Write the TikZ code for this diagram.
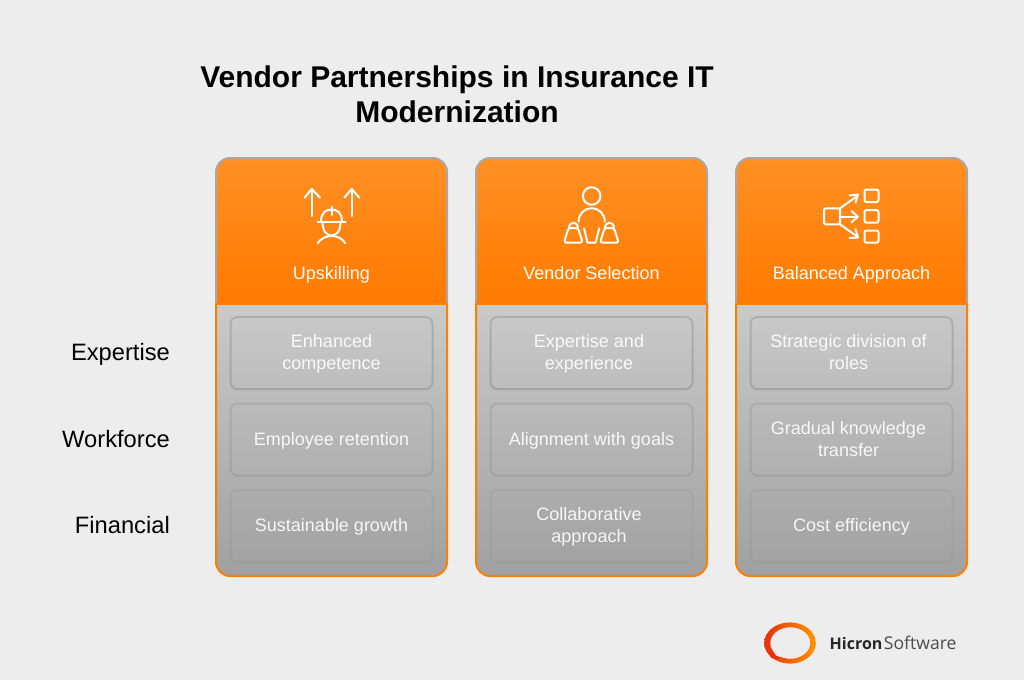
\documentclass[tikz,border=0pt]{standalone}
\usepackage{fontspec}
\setmainfont{Liberation Sans}
\newfontfamily\logofont{Open Sans}
\definecolor{pagebg}{HTML}{EDEDED}
\definecolor{orangeline}{HTML}{FF8000}
\definecolor{headtop}{HTML}{FF9025}
\definecolor{headbot}{HTML}{FF7A00}
\definecolor{bodytop}{HTML}{CACACA}
\definecolor{bodybot}{HTML}{A0A0A0}
\definecolor{headedge}{HTML}{A8A8A8}
\definecolor{logored}{HTML}{E8300A}
\definecolor{logoorange}{HTML}{FF9400}
\tikzset{
  x=1pt,y=-1pt,
  titletext/.style={font=\fontsize{30}{35}\selectfont\bfseries,text=black,align=center,inner sep=0pt},
  sidetext/.style={font=\fontsize{23.7}{28}\selectfont,text=black,anchor=east,inner sep=0pt},
  headtext/.style={font=\fontsize{18}{22}\selectfont,text=white,inner sep=0pt},
  itemtext/.style={font=\fontsize{18}{22}\selectfont,text=white,text opacity=.9,align=center,inner sep=0pt},
  itembox/.style={draw=black,line width=2pt,rounded corners=7pt,minimum width=202pt,minimum height=72pt,inner sep=0pt},
  rowone/.style={itembox,draw opacity=.13},
  rowtwo/.style={itembox,draw opacity=.08},
  rowthree/.style={itembox,draw opacity=.035},
  iconline/.style={draw=white,line width=2pt,line cap=round,line join=round},
}
\newcommand{\cardbg}[1]{%
  \begin{scope}
    \clip[rounded corners=14pt] (#1,158) rectangle (#1+231,576);
    \shade[top color=bodytop,bottom color=bodybot] (#1,304) rectangle (#1+231,576);
    \shade[top color=headtop,bottom color=headbot] (#1,158) rectangle (#1+231,304);
  \end{scope}
  \draw[headedge,line width=2pt,rounded corners=14pt] (#1,304) -- (#1,158) -- (#1+231,158) -- (#1+231,304);
  \draw[orangeline,line width=2pt,rounded corners=14pt] (#1,304) -- (#1,576) -- (#1+231,576) -- (#1+231,304);
  \draw[orangeline,line width=1.5pt] (#1-1,304) -- (#1+232,304);
}
\begin{document}
\begin{tikzpicture}
\useasboundingbox (0,0) rectangle (1024,680);
\fill[pagebg] (0,0) rectangle (1024,680);

\node[titletext] (title) at (457,94) {Vendor Partnerships in Insurance IT\\Modernization};

\node[sidetext] (sideA) at (170,355) {Expertise\strut};
\node[sidetext] (sideB) at (170,441.5) {Workforce\strut};
\node[sidetext] (sideC) at (170,528) {Financial\strut};

% cards
\cardbg{216}
\cardbg{476}
\cardbg{736}

\node[headtext] (headA) at (331.5,275) {Upskilling\strut};
\node[headtext] (headB) at (591.5,275) {Vendor Selection\strut};
\node[headtext] (headC) at (851.5,275) {Balanced Approach\strut};

% item boxes, first card
\node[rowone] (a1) at (331.5,353) {};
\node[rowtwo] (a2) at (331.5,439.5) {};
\node[rowthree] (a3) at (331.5,526) {};
% second card
\node[rowone] (b1) at (591.5,353) {};
\node[rowtwo] (b2) at (591.5,439.5) {};
\node[rowthree] (b3) at (591.5,526) {};
% third card
\node[rowone] (c1) at (851.5,353) {};
\node[rowtwo] (c2) at (851.5,439.5) {};
\node[rowthree] (c3) at (851.5,526) {};

\node[itemtext] (ta1) at (331.5,354) {Enhanced\strut\\competence\strut};
\node[itemtext] (ta2) at (331.5,441) {Employee retention\strut};
\node[itemtext] (ta3) at (331.5,527) {Sustainable growth\strut};
\node[itemtext] (tb1) at (589,354) {Expertise and\strut\\experience\strut};
\node[itemtext] (tb2) at (591.5,441) {Alignment with goals\strut};
\node[itemtext] (tb3) at (589,527) {Collaborative\strut\\approach\strut};
\node[itemtext] (tc1) at (848.5,354) {Strategic division of\strut\\roles\strut};
\node[itemtext] (tc2) at (848.5,441) {Gradual knowledge\strut\\transfer\strut};
\node[itemtext] (tc3) at (851.5,527) {Cost efficiency\strut};

% upskilling icon
\draw[iconline] (311.7,216) -- (311.7,189);
\draw[iconline] (304.7,197.7) -- (311.7,189) -- (320,197.7);
\draw[iconline] (351.7,216) -- (351.7,189);
\draw[iconline] (344.3,197.7) -- (351.7,189) -- (359.3,197.7);
\draw[iconline] (317.7,221.7) -- (345.7,221.7);
\draw[iconline] (321,221.7) .. controls (321,213) and (325.5,209.5) .. (331.5,209.5) .. controls (337.5,209.5) and (342,213) .. (342,221.7);
\draw[iconline] (331.5,206.7) -- (331.5,215);
\draw[iconline] (322.5,221.7) .. controls (322.5,231) and (326.5,235.5) .. (331.5,235.5) .. controls (336.5,235.5) and (340.5,231) .. (340.5,221.7);
\draw[iconline] (317.7,243.3) .. controls (320.5,238.5) and (326,236) .. (331.5,236) .. controls (337,236) and (342.5,238.5) .. (345.3,243.3);

% vendor selection icon
\draw[iconline] (591.7,196) circle[radius=8.8];
\draw[iconline] (578.6,221.7) .. controls (578.6,214) and (584,208.3) .. (591.7,208.3) .. controls (599,208.3) and (604.8,214) .. (604.8,221.7);
\draw[iconline] (584,228.3) -- (587.5,242.7) -- (595.5,242.7) -- (599.3,228.3);
\draw[iconline,rounded corners=2.5pt] (568.5,228) -- (578,228) -- (582.7,242.7) -- (564,242.7) -- cycle;
\draw[iconline] (569,228) .. controls (569,221) and (578,221) .. (578,228);
\draw[iconline,rounded corners=2.5pt] (604.7,228) -- (614,228) -- (618.7,242.7) -- (600,242.7) -- cycle;
\draw[iconline] (605,228) .. controls (605,221) and (614,221) .. (614,228);

% balanced approach icon
\draw[iconline,rounded corners=1.5pt] (824,208.3) rectangle (840,224.3);
\draw[iconline,rounded corners=2pt] (864.5,189.5) rectangle (878.5,202);
\draw[iconline,rounded corners=2pt] (864.5,210) rectangle (878.5,222.7);
\draw[iconline,rounded corners=2pt] (864.5,230.5) rectangle (878.5,242.7);
\draw[iconline] (840,208.3) -- (857.3,196);
\draw[iconline] (849.5,195.5) -- (858,194.5) -- (855.5,202.5);
\draw[iconline] (840,216.7) -- (857.3,216.7);
\draw[iconline] (851.5,211) -- (857.8,216.7) -- (851.5,222.3);
\draw[iconline] (840,224.3) -- (857.3,236.7);
\draw[iconline] (855.5,229) -- (858,237.5) -- (849.5,238);

% logo
\shade[left color=logored,right color=logoorange,even odd rule]
  (790,643) ellipse[x radius=25.8,y radius=20.6]
  (790.3,643) ellipse[x radius=20,y radius=15.8];
\fill[logored] (768.5,651) -- (771,657.8) -- (779,659.2) -- (776,652) -- cycle;
\fill[pagebg] (772.8,650.5) -- (776.2,655.6) -- (781,657.2) -- (778,652) -- cycle;

\node[inner sep=0pt,anchor=west,text=black!85] (logotext) at (829.5,643) {\logofont{\fontsize{16}{20}\selectfont\textbf{Hicron}}\hspace{1.5pt}{\fontsize{17.6}{20}\selectfont\color{black!70}Software}};
\end{tikzpicture}
\end{document}
